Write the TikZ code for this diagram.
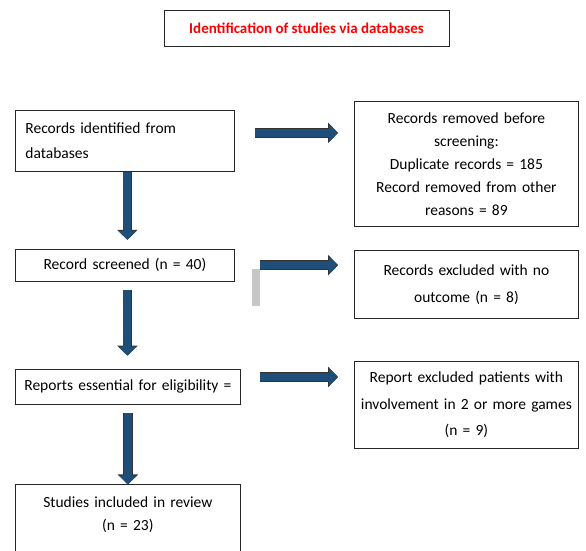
\documentclass[tikz,border=0pt]{standalone}
\usepackage{fontspec}
\setmainfont{Carlito}
\usepackage{tikz}
\usetikzlibrary{arrows.meta, positioning}

\definecolor{arrowblue}{HTML}{1F4E79}
\definecolor{titlered}{HTML}{FF0000}

\begin{document}
\begin{tikzpicture}[
    x=1pt, y=-1pt,
    box/.style={rectangle, draw=black!85, line width=0.8pt, inner xsep=4pt, inner ysep=0pt, align=center, font=\fontsize{15.5}{23}\selectfont, anchor=north west},
    leftbox/.style={box, text width=211pt, minimum width=219pt},
    widebox/.style={box, text width=217pt, minimum width=225pt},
    rightbox/.style={box, text width=216pt, minimum width=224pt},
    flow/.style={line width=8pt, draw=arrowblue, -{Triangle[length=9pt,width=18pt]},
        preaction={draw=black!80, line width=9.6pt, -{Triangle[length=10pt,width=20pt]}}},
]
    \useasboundingbox (0,0) rectangle (586,551);
    \clip (0,0) rectangle (586,551);

    % Title
    \node[box, anchor=center, minimum width=285pt, minimum height=36pt, text=titlered, font=\fontsize{15}{18}\selectfont\bfseries] (title) at (306.5,28) {Identification of studies via databases};

    % Left column
    \node[leftbox, minimum height=61pt, align=left, text width=199pt, inner xsep=10pt, font=\fontsize{15.5}{25}\selectfont] (recid) at (15,110) {Records identified from\\databases};
    \node[leftbox, minimum height=32pt, below=77pt of recid.south west, anchor=north west] (screened) {Record screened (n = 40)};
    \node[widebox, minimum height=35pt, below=87pt of screened.south west, anchor=north west] (eligible) {Reports essential for eligibility =};
    \node[widebox, minimum height=90pt, below=80pt of eligible.south west, anchor=north west, text depth=56pt] (included) {Studies included in review\\(n = 23)};

    % Right column
    \node[rightbox, minimum height=125pt] (removed) at (354,101) {Records removed before\\screening:\\Duplicate records = 185\\Record removed from other\\reasons = 89};
    \node[rightbox, minimum height=68pt, font=\fontsize{15.5}{27}\selectfont] (noout) at (354,250) {Records excluded with no\\outcome (n = 8)};
    \node[rightbox, minimum height=87pt, font=\fontsize{15.5}{26.5}\selectfont] (games) at (354,361) {Report excluded patients with\\involvement in 2 or more games\\(n = 9)};

    % Grey stub
    \fill[black!22] (252,269) rectangle (260,306);

    % Arrows
    \draw[flow, shorten <=20pt, shorten >=16pt] ([yshift=8pt]recid.east) -- ([yshift=8pt]recid.east -| removed.west);
    \draw[flow, shorten <=25pt, shorten >=16pt] (screened.east) -- (screened.east -| noout.west);
    \draw[flow, shorten <=19pt, shorten >=16pt] ([yshift=9.5pt]eligible.east) -- ([yshift=9.5pt]eligible.east -| games.west);
    \draw[flow, shorten >=9pt] ([xshift=2.5pt]recid.south) -- ([xshift=2.5pt]recid.south |- screened.north);
    \draw[flow, shorten <=8pt, shorten >=13pt] ([xshift=2.5pt]screened.south) -- ([xshift=2.5pt]screened.south |- eligible.north);
    \draw[flow, shorten <=9pt] (eligible.south) -- (eligible.south |- included.north);
\end{tikzpicture}
\end{document}
